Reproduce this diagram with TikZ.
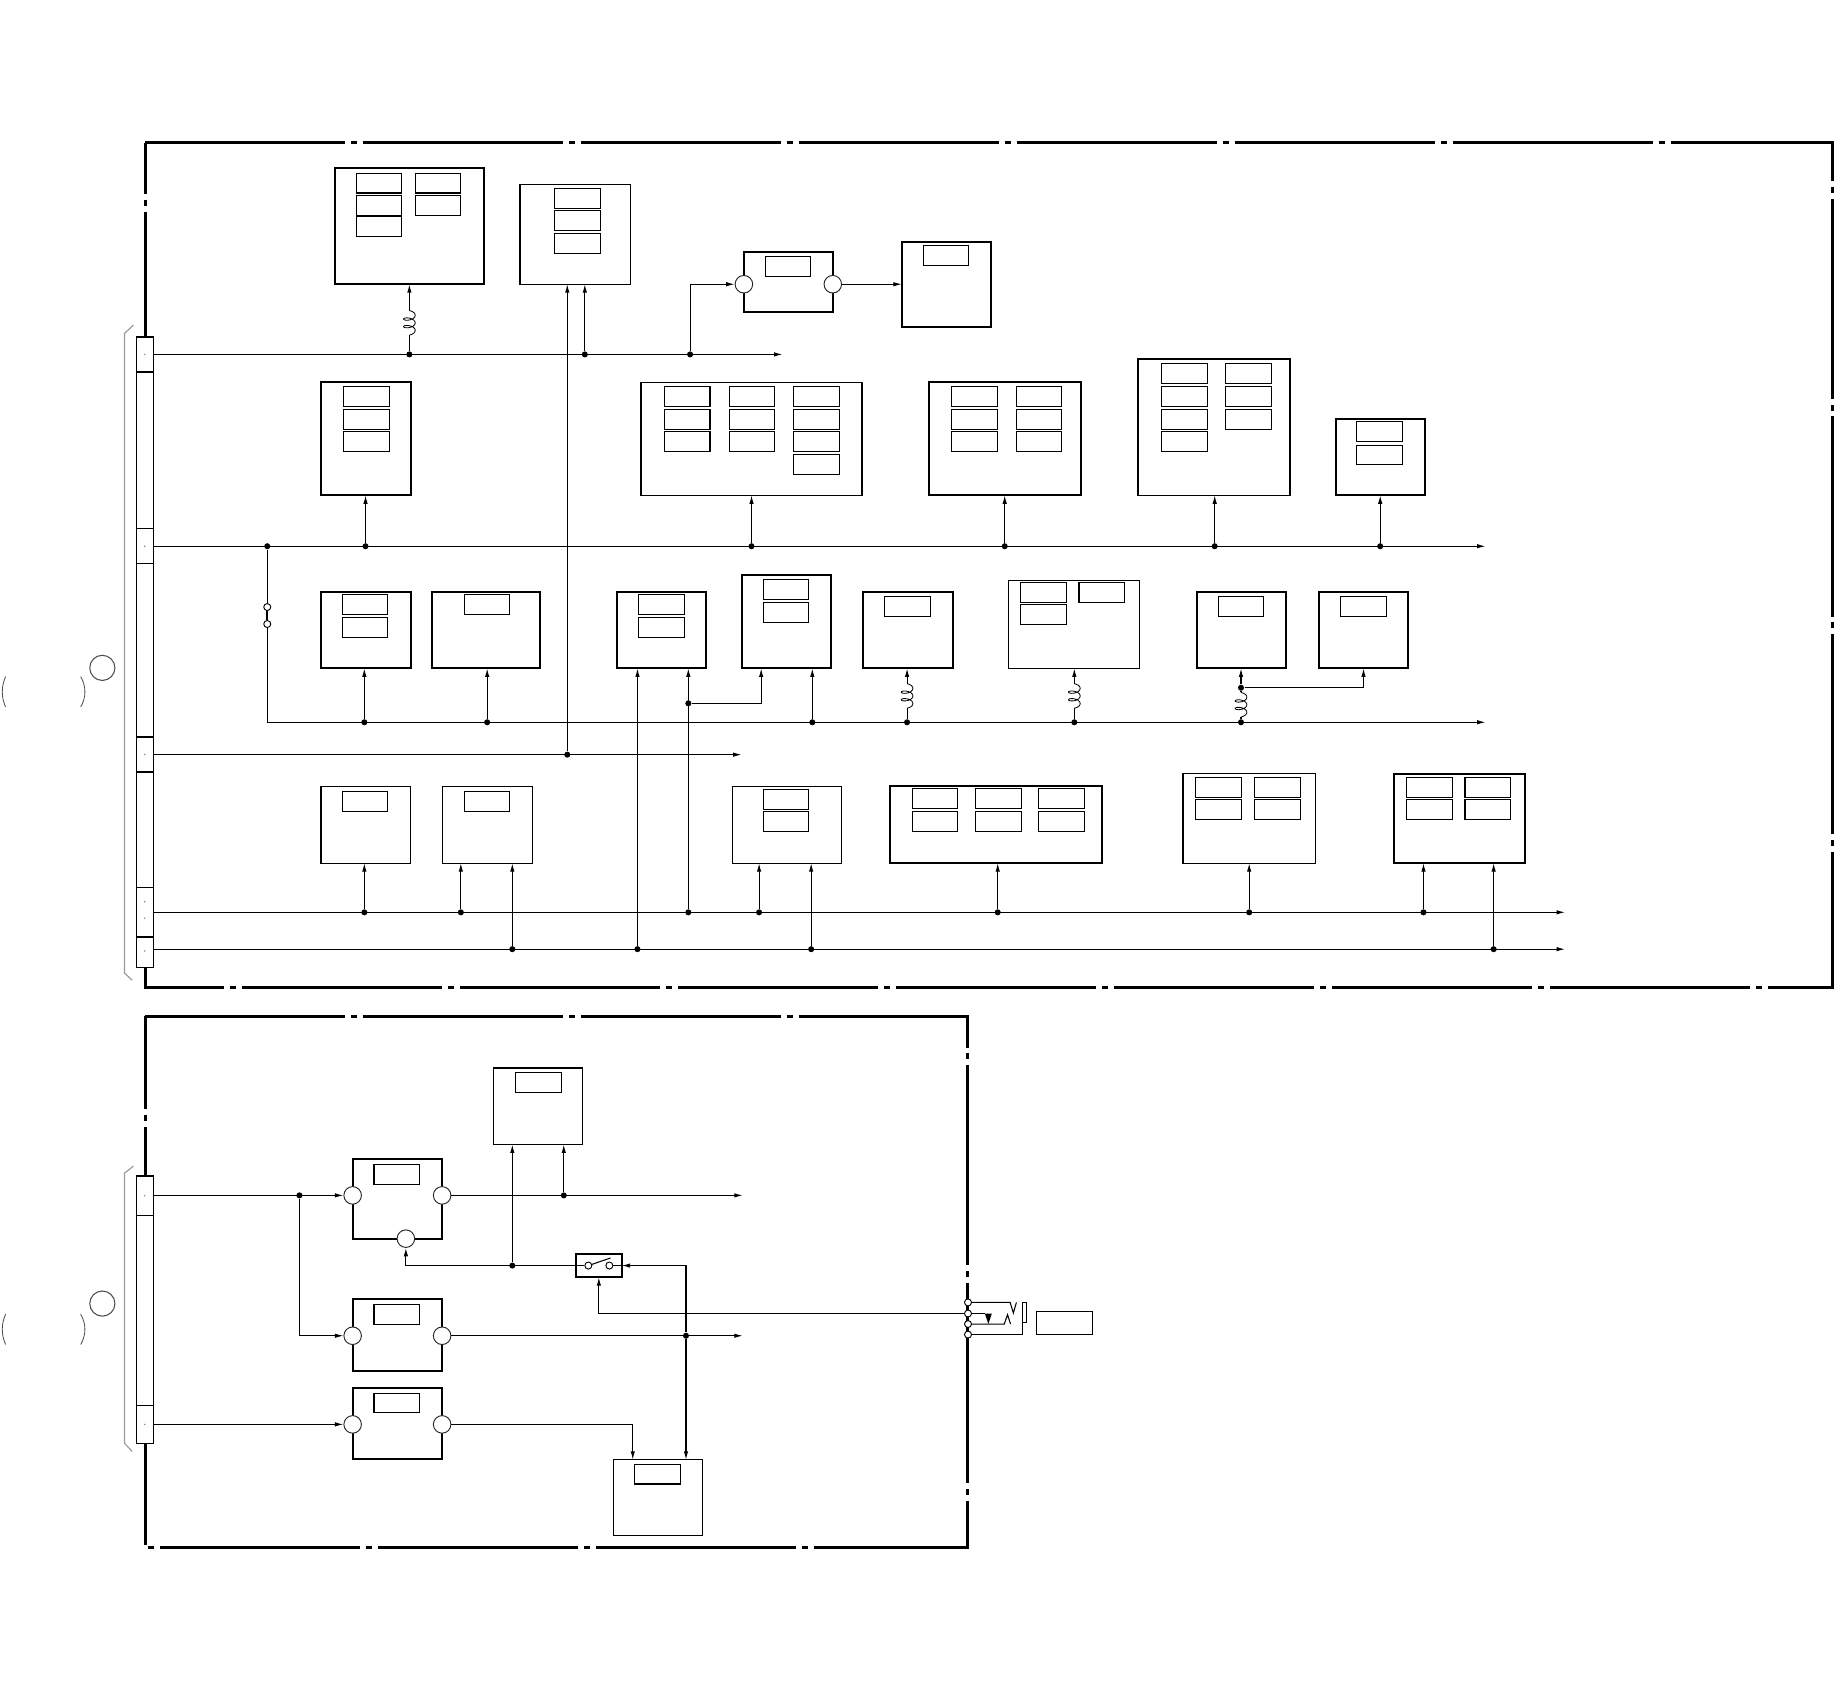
\documentclass[tikz,border=0pt]{standalone}
\usepackage{tikz}
\usetikzlibrary{positioning,calc,arrows.meta}

\begin{document}
\begin{tikzpicture}[
    x=0.5pt,y=-0.5pt,
    >={Latex[length=3.6pt,width=1.9pt]},
    block/.style 2 args={
        draw,
        fill=white,
        line width=0.85pt,
        inner sep=0pt,
        outer sep=0pt,
        minimum width=#1*0.5pt,
        minimum height=#2*0.5pt
    },
    thinblock/.style 2 args={
        block={#1}{#2},
        line width=0.55pt
    },
    unit/.style={
        draw,
        fill=white,
        line width=0.45pt,
        inner sep=0pt,
        minimum width=19.5pt,
        minimum height=8.5pt
    },
    slot/.style={
        draw,
        fill=white,
        line width=0.55pt,
        inner sep=0pt,
        minimum width=7.25pt,
        minimum height=#1*0.5pt
    },
    frame/.style={
        line width=1.3pt,
        dash pattern=on 85.52pt off 2.55pt on 2.55pt off 2.55pt
    },
    wire/.style={
        line width=0.45pt
    },
    arrow/.style={
        ->,
        line width=0.45pt
    },
    brace/.style={
        draw=gray!80,
        line width=0.5pt
    },
    thinline/.style={
        draw=black!70,
        line width=0.35pt
    },
    dot/.style={
        circle,
        fill=black,
        inner sep=0pt,
        minimum size=2.6pt
    },
    pindot/.style={
        circle,
        fill=gray,
        inner sep=0pt,
        minimum size=0.7pt
    },
    port/.style={
        circle,
        draw=black!85,
        fill=white,
        line width=0.4pt,
        inner sep=0pt,
        minimum size=7.5pt
    },
    contact/.style={
        circle,
        draw,
        fill=white,
        line width=0.4pt,
        inner sep=0pt,
        minimum size=3pt
    },
    callout/.style={
        circle,
        draw=black!70,
        line width=0.45pt,
        inner sep=0pt,
        minimum size=10.75pt
    },
    choke/.pic={
        \draw[line width=0.35pt] plot[smooth,variable=\t,domain=-90:810,samples=61]
            ({5*cos(\t)},{-(1.03*rad(\t+90)+2.4*(1+sin(\t)))});
        \coordinate (-bot) at (0,0);
        \coordinate (-top) at (0,-21);
    }
]

\useasboundingbox (0,0) rectangle (1568,1439.8);

\draw[frame] (124,122) -- (1567,122) -- (1567,844) -- (124,844) -- cycle;
\draw[frame] (124,869) -- (827.5,869) -- (827.5,1323) -- (124,1323) -- cycle;

\node[slot=30] (con1) at (123.75,303) {};
\node[slot=134] (con1b) at (123.75,385) {};
\node[slot=30] (con2) at (123.75,467) {};
\node[slot=148] (con2b) at (123.75,556) {};
\node[slot=30] (con3) at (123.75,645) {};
\node[slot=99] (con3b) at (123.75,709.5) {};
\node[slot=42] (con4) at (123.75,780) {};
\node[slot=26] (con5) at (123.75,814) {};
\node[slot=33.5] (lcon1) at (123.75,1022.25) {};
\node[slot=162.5] (lcon1b) at (123.75,1120.25) {};
\node[slot=32.5] (lcon2) at (123.75,1217.75) {};

\node[pindot] (pin1) at (con1) {};
\node[pindot] (pin2) at (con2) {};
\node[pindot] (pin3) at (con3) {};
\node[pindot] (pin4a) at (123.75,771) {};
\node[pindot] (pin4b) at (123.75,785) {};
\node[pindot] (pin5) at (123.75,813) {};
\node[pindot] (lpin1) at (lcon1) {};
\node[pindot] (lpin2) at (lcon2) {};

\draw[brace] (114,278) -- (106.5,285) -- (106.5,832) -- (113,838);
\draw[brace] (114,997) -- (106.5,1003) -- (106.5,1234) -- (113,1241);

\node[callout] (mark1) at (87.5,571) {};
\node[callout] (mark2) at (87.5,1114.5) {};
\draw[thinline] (4.8,578.5) .. controls (1,587) and (1,596) .. (4.8,604.5);
\draw[thinline] (69,578.5) .. controls (73.8,587) and (73.8,596) .. (69,604.5);
\draw[thinline] (4.8,1123.5) .. controls (1,1132) and (1,1141) .. (4.8,1149.5);
\draw[thinline] (69,1123.5) .. controls (73.8,1132) and (73.8,1141) .. (69,1149.5);

\node[block={128}{99}] (a1) at (350,193.5) {};
\node[thinblock={94.5}{85.5}] (a2) at (491.75,200.25) {};
\node[block={76.5}{51.5}] (a3) at (674.25,241.25) {};
\node[block={76.5}{72.5}] (a4) at (809.25,243.25) {};

\node[block={76.5}{96.5}] (b1) at (312.75,375.25) {};
\node[thinblock={189}{96.5}] (b2) at (642.5,375.25) {};
\node[block={130}{96.5}] (b3) at (859,375.25) {};
\node[thinblock={130}{116.5}] (b4) at (1038,365.25) {};
\node[block={76.5}{65.5}] (b5) at (1180.25,390.75) {};

\node[block={76.5}{65.5}] (c1) at (312.75,538.75) {};
\node[block={92.5}{65.5}] (c2) at (415.75,538.75) {};
\node[block={76.5}{65.5}] (c3) at (565.75,538.75) {};
\node[block={76.5}{79.5}] (c4) at (672.25,531.75) {};
\node[block={76.5}{65.5}] (c5) at (776.25,538.75) {};
\node[thinblock={112}{75.5}] (c6) at (918.5,533.75) {};
\node[block={76.5}{65.5}] (c7) at (1061.25,538.75) {};
\node[block={76.5}{65.5}] (c8) at (1165.75,538.75) {};

\node[thinblock={76.5}{65.5}] (d1) at (312.75,705.25) {};
\node[thinblock={76.5}{65.5}] (d2) at (416.75,705.25) {};
\node[thinblock={93}{65.5}] (d3) at (673,705.25) {};
\node[block={181}{66}] (d4) at (851.5,705) {};
\node[thinblock={113}{76.5}] (d5) at (1068,699.75) {};
\node[block={112.5}{76.5}] (d6) at (1247.75,699.75) {};

\node[thinblock={76}{65.5}] (e1) at (460,945.75) {};
\node[block={76.5}{68}] (e2) at (339.75,1025) {};
\node[block={76.5}{61.5}] (e3) at (339.75,1141.75) {};
\node[block={76.5}{60.5}] (e4) at (339.75,1217.25) {};
\node[thinblock={76}{65}] (e5) at (562.5,1280.5) {};
\node[block={39}{20}] (sw) at (512,1082) {};

\node[unit] (a1u1) at (324,156.5) {};
\node[unit] (a1u2) at (324,175.5) {};
\node[unit] (a1u3) at (324,194) {};
\node[unit] (a1u4) at (374.5,156.5) {};
\node[unit] (a1u5) at (374.5,175.5) {};
\node[unit] (a2u1) at (493.5,169.75) {};
\node[unit] (a2u2) at (493.5,188.5) {};
\node[unit] (a2u3) at (493.5,208.25) {};
\node[unit] (a3u1) at (673.75,227.5) {};
\node[unit] (a4u1) at (808.75,218.5) {};

\node[unit] (b1u1) at (313.25,339) {};
\node[unit] (b1u2) at (313.25,358.75) {};
\node[unit] (b1u3) at (313.25,377.5) {};
\node[unit] (b2u1) at (587.5,339) {};
\node[unit] (b2u2) at (587.5,358.75) {};
\node[unit] (b2u3) at (587.5,377.5) {};
\node[unit] (b2u4) at (643,339) {};
\node[unit] (b2u5) at (643,358.75) {};
\node[unit] (b2u6) at (643,377.5) {};
\node[unit] (b2u7) at (698,339) {};
\node[unit] (b2u8) at (698,358.75) {};
\node[unit] (b2u9) at (698,377.5) {};
\node[unit] (b2u10) at (698,397.25) {};
\node[unit] (b3u1) at (833,339) {};
\node[unit] (b3u2) at (833,358.75) {};
\node[unit] (b3u3) at (833,377.5) {};
\node[unit] (b3u4) at (888.25,339) {};
\node[unit] (b3u5) at (888.25,358.75) {};
\node[unit] (b3u6) at (888.25,377.5) {};
\node[unit] (b4u1) at (1012.5,319.25) {};
\node[unit] (b4u2) at (1012.5,338.75) {};
\node[unit] (b4u3) at (1012.5,358.5) {};
\node[unit] (b4u4) at (1012.5,377.5) {};
\node[unit] (b4u5) at (1067.5,319.25) {};
\node[unit] (b4u6) at (1067.5,338.75) {};
\node[unit] (b4u7) at (1067.5,358.5) {};
\node[unit] (b5u1) at (1179.5,369.25) {};
\node[unit] (b5u2) at (1179.5,389) {};

\node[unit] (c1u1) at (312,517) {};
\node[unit] (c1u2) at (312,536.75) {};
\node[unit] (c2u1) at (416.5,517) {};
\node[unit] (c3u1) at (565.5,517) {};
\node[unit] (c3u2) at (565.5,536.75) {};
\node[unit] (c4u1) at (672,504.25) {};
\node[unit] (c4u2) at (672,523.5) {};
\node[unit] (c5u1) at (775.75,518.5) {};
\node[unit] (c6u1) at (892.25,506.75) {};
\node[unit] (c6u2) at (892.25,525.5) {};
\node[unit] (c6u3) at (942,506.75) {};
\node[unit] (c7u1) at (1061,518.5) {};
\node[unit] (c8u1) at (1165.5,518.5) {};

\node[unit] (d1u1) at (312,685) {};
\node[unit] (d2u1) at (416.5,685) {};
\node[unit] (d3u1) at (672,683.5) {};
\node[unit] (d3u2) at (672,702.5) {};
\node[unit] (d4u1) at (799.5,682.5) {};
\node[unit] (d4u2) at (799.5,702.25) {};
\node[unit] (d4u3) at (853.5,682.5) {};
\node[unit] (d4u4) at (853.5,702.25) {};
\node[unit] (d4u5) at (907.5,682.5) {};
\node[unit] (d4u6) at (907.5,702.25) {};
\node[unit] (d5u1) at (1041.75,673) {};
\node[unit] (d5u2) at (1041.75,692.25) {};
\node[unit] (d5u3) at (1092,673) {};
\node[unit] (d5u4) at (1092,692.25) {};
\node[unit] (d6u1) at (1222,673) {};
\node[unit] (d6u2) at (1222,692.25) {};
\node[unit] (d6u3) at (1272,673) {};
\node[unit] (d6u4) at (1272,692.25) {};

\node[unit] (e1u1) at (460.25,925.5) {};
\node[unit] (e2u1) at (339.25,1004) {};
\node[unit] (e3u1) at (339.25,1123.5) {};
\node[unit] (e4u1) at (339.25,1199.5) {};
\node[unit] (e5u1) at (562,1260.25) {};
\node[unit,minimum width=24pt,minimum height=9.75pt] (tag) at (910,1131.25) {};

\node[port] (a3l) at (636,243) {};
\node[port] (a3r) at (712,243) {};
\node[port] (e2l) at (301.5,1022) {};
\node[port] (e2r) at (378,1022) {};
\node[port] (e2b) at (347,1059) {};
\node[port] (e3l) at (301.5,1142) {};
\node[port] (e3r) at (378,1142) {};
\node[port] (e4l) at (301.5,1217.8) {};
\node[port] (e4r) at (378,1217.8) {};

\coordinate (end1) at (669,303);
\coordinate (end2) at (1270,467);
\coordinate (end3) at (1270,617.5);
\coordinate (end4) at (634,645.2);
\coordinate (end5) at (1338,780);
\coordinate (end6) at (1338,811.5);
\coordinate (end7) at (635,1022);
\coordinate (end8) at (635,1142);

\draw[arrow] (con1.east |- end1) -- (end1);
\draw[arrow] (con2.east |- end2) -- (end2);
\draw[arrow] (con3.east |- end4) -- (end4);
\draw[arrow] (con4.east |- end5) -- (end5);
\draw[arrow] (con5.east |- end6) -- (end6);

\node[dot] (j1a) at (350,303) {};
\node[dot] (j1b) at (500,303) {};
\node[dot] (j1c) at (590,303) {};
\node[dot] (j2a) at (228.5,467) {};
\node[dot] (j2b) at (312.5,467) {};
\node[dot] (j2c) at (642.5,467) {};
\node[dot] (j2d) at (859,467) {};
\node[dot] (j2e) at (1038.5,467) {};
\node[dot] (j2f) at (1180,467) {};
\node[dot] (j3a) at (311.5,617.5) {};
\node[dot] (j3b) at (416.5,617.5) {};
\node[dot] (j3c) at (694.5,617.5) {};
\node[dot] (j3d) at (775.5,617.5) {};
\node[dot] (j3e) at (918.5,617.5) {};
\node[dot] (j3f) at (1061,617.5) {};
\node[dot] (j3g) at (1061,588) {};
\node[dot] (j3h) at (588.5,601.3) {};
\node[dot] (j4a) at (485,645.2) {};
\node[dot] (j5a) at (311.5,780) {};
\node[dot] (j5b) at (394,780) {};
\node[dot] (j5c) at (588.5,780) {};
\node[dot] (j5d) at (649,780) {};
\node[dot] (j5e) at (853,780) {};
\node[dot] (j5f) at (1068,780) {};
\node[dot] (j5g) at (1217,780) {};
\node[dot] (j6a) at (438,811.5) {};
\node[dot] (j6b) at (545,811.5) {};
\node[dot] (j6c) at (693.5,811.5) {};
\node[dot] (j6d) at (1277,811.5) {};

\node[contact] (jump1) at (228.5,519) {};
\node[contact] (jump2) at (228.5,533.5) {};
\draw[wire] (j2a) -- (jump1);
\draw[line width=1pt] (jump1) -- (jump2);
\draw[arrow] (jump2) |- (end3);

\pic (ch1) at (350,286.5) {choke};
\pic (ch2) at (775.5,605.5) {choke};
\pic (ch3) at (918.5,605.5) {choke};
\pic (ch4) at (1061,613) {choke};

\draw[wire] (j1a) -- (ch1-bot);
\draw[arrow] (ch1-top) -- (ch1-top |- a1.south);
\draw[arrow] (j1b) -- (j1b |- a2.south);
\draw[arrow] (j4a) -- (j4a |- a2.south);
\draw[arrow] (j1c) |- (a3l);
\draw[arrow] (a3r) -- (a4.west |- a3r);

\draw[arrow] (j2b) -- (j2b |- b1.south);
\draw[arrow] (j2c) -- (j2c |- b2.south);
\draw[arrow] (j2d) -- (j2d |- b3.south);
\draw[arrow] (j2e) -- (j2e |- b4.south);
\draw[arrow] (j2f) -- (j2f |- b5.south);

\draw[arrow] (j3a) -- (j3a |- c1.south);
\draw[arrow] (j3b) -- (j3b |- c2.south);
\draw[arrow] (j3c) -- (j3c |- c4.south);
\draw[wire] (j3d) -- (ch2-bot);
\draw[arrow] (ch2-top) -- (ch2-top |- c5.south);
\draw[wire] (j3e) -- (ch3-bot);
\draw[arrow] (ch3-top) -- (ch3-top |- c6.south);
\draw[wire] (j3f) -- (ch4-bot);
\draw[wire] (ch4-top) -- (j3g);
\draw[arrow] (j3g) -- (j3g |- c7.south);
\draw[arrow] (j3g) -| (c8.south);
\draw[arrow] (j5c) -- (j5c |- c3.south);
\draw[arrow] (j6b) -- (j6b |- c3.south);
\draw[arrow] (j3h) -| ($(c4.south)+(-21.5,0)$);

\draw[arrow] (j5a) -- (j5a |- d1.south);
\draw[arrow] (j5b) -- (j5b |- d2.south);
\draw[arrow] (j6a) -- (j6a |- d2.south);
\draw[arrow] (j5d) -- (j5d |- d3.south);
\draw[arrow] (j6c) -- (j6c |- d3.south);
\draw[arrow] (j5e) -- (j5e |- d4.south);
\draw[arrow] (j5f) -- (j5f |- d5.south);
\draw[arrow] (j5g) -- (j5g |- d6.south);
\draw[arrow] (j6d) -- (j6d |- d6.south);

\node[dot] (k1a) at (256,1022) {};
\node[dot] (k1b) at (482,1022) {};
\node[dot] (k2a) at (438,1082) {};
\node[dot] (k3a) at (586.5,1142) {};
\node[contact] (sw1) at (503,1082) {};
\node[contact] (sw2) at (521,1082) {};
\node[contact] (jk1) at (827.6,1113.5) {};
\node[contact] (jk2) at (827.6,1123) {};
\node[contact] (jk3) at (827.6,1132) {};
\node[contact] (jk4) at (827.6,1141) {};

\draw[arrow] (lcon1.east |- e2l) -- (e2l);
\draw[arrow] (k1a) |- (e3l);
\draw[arrow] (lcon2.east |- e4l) -- (e4l);
\draw[arrow] (e2r) -- (end7);
\draw[arrow] (e3r) -- (end8);
\draw[arrow] (e4r) -| (e5.north -| 541,0);
\draw[arrow] (k1b) -- (k1b |- e1.south);
\draw[arrow] (k2a) -- (k2a |- e1.south);
\draw[arrow] (sw.west) -| (e2b);
\draw[wire] (sw.west) -- (sw1);
\draw[wire] (sw2) -- (sw.east);
\draw[wire] (506,1081) -- (522,1075.5);
\draw[arrow] (k3a) |- (sw.east);
\draw[arrow] (k3a) -- (k3a |- e5.north);
\draw[arrow] (jk2) -| (sw.south);

\draw[wire] (jk1) -- ++(36,0) -- ++(2.8,9) -- ++(2.6,-9);
\draw[wire] (jk2) -- (842,1123);
\fill (842,1123) -- (848,1123) -- (845,1132) -- cycle;
\draw[wire] (jk3) -- ++(31,0) -- ++(2.8,-8) -- ++(2.6,8);
\draw[wire] (jk4) -| (874,1130.5);
\draw[wire] (874,1113.5) rectangle (877.5,1130.5);

\end{tikzpicture}
\end{document}
